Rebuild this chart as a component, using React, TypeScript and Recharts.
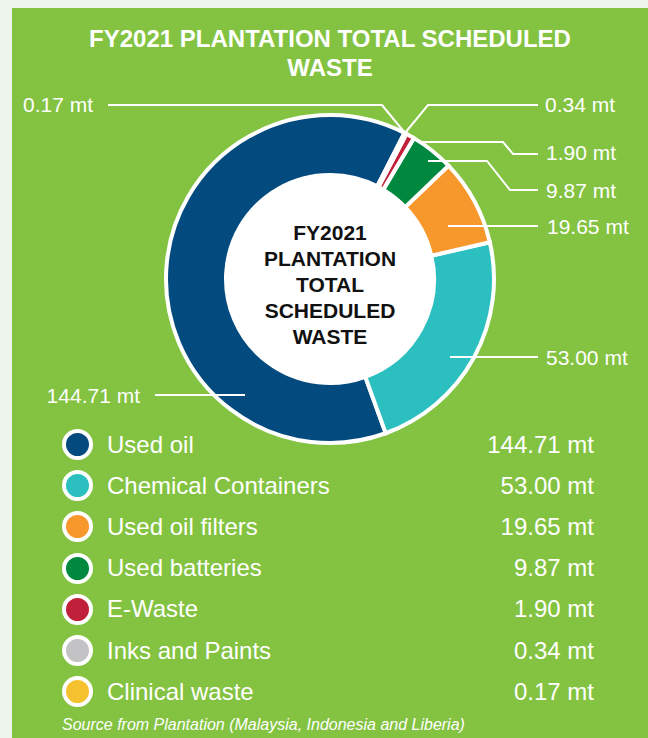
import React from 'react';
import { PieChart, Pie, Cell } from 'recharts';

// ─── Data ─────────────────────────────────────────────────────────────────────

const categories = [
  'Used oil',
  'Chemical Containers',
  'Used oil filters',
  'Used batteries',
  'E-Waste',
  'Inks and Paints',
  'Clinical waste',
];
const tonnes = [144.71, 53.0, 19.65, 9.87, 1.9, 0.34, 0.17];
const colors = ['#034a7e', '#2cbfc0', '#f7982c', '#00893e', '#c0203a', '#c3c3c5', '#f6c12e'];

const TITLE = 'FY2021 PLANTATION TOTAL SCHEDULED WASTE';
const CENTER_LINES = ['FY2021', 'PLANTATION', 'TOTAL', 'SCHEDULED', 'WASTE'];
const SOURCE = 'Source from Plantation (Malaysia, Indonesia and Liberia)';

const fmt = (v: number) => `${v.toFixed(2)} mt`;
const data = categories.map((name, i) => ({ name, value: tonnes[i] }));

// ─── Layout ───────────────────────────────────────────────────────────────────

const W = 648;
const H = 738;
const CX = 330;
const CY = 279;
const GREEN = '#83c341';
const FONT = '"Liberation Sans", Arial, Helvetica, sans-serif';

// leader line routes, relative to the pie centre (one per slice, same order)
const LEADERS: { pts: [number, number][]; tx: number; ty: number; anchor: 'start' | 'end' }[] = [
  { pts: [[-85, 116], [-175, 116]], tx: -190, ty: 116, anchor: 'end' },
  { pts: [[120, 78], [208, 78]], tx: 216, ty: 78, anchor: 'start' },
  { pts: [[118, -53], [208, -53]], tx: 217, ty: -53, anchor: 'start' },
  { pts: [[98, -118], [157, -118], [180, -89], [208, -89]], tx: 216, ty: -89, anchor: 'start' },
  { pts: [[88, -137], [173, -137], [183, -125], [208, -125]], tx: 216, ty: -127, anchor: 'start' },
  { pts: [[75, -146], [98, -174], [208, -174]], tx: 215, ty: -175, anchor: 'start' },
  { pts: [[75, -146], [52, -174], [-222, -174]], tx: -237, ty: -175, anchor: 'end' },
];

function renderLeader(props: any) {
  const { cx, cy, index } = props;
  const l = LEADERS[index];
  if (!l) return null;
  const points = l.pts.map(([dx, dy]) => `${cx + dx},${cy + dy}`).join(' ');
  return (
    <g key={`leader-${index}`}>
      <polyline points={points} fill="none" stroke="#fff" strokeWidth={2} />
      <text x={cx + l.tx} y={cy + l.ty} textAnchor={l.anchor} dominantBaseline="central"
            fill="#fff" fontSize={21} fontFamily={FONT}>
        {fmt(tonnes[index])}
      </text>
    </g>
  );
}

// ─── Chart ────────────────────────────────────────────────────────────────────

export default function App() {
  return (
    <div style={{ position: 'absolute', left: 0, top: 0, width: W, height: H, background: '#eef5ec',
                  overflow: 'hidden', fontFamily: FONT }}>
      <div style={{ position: 'absolute', left: 12, top: 8, width: W - 12, height: H - 8, background: GREEN }} />

      {/* title */}
      <div style={{ position: 'absolute', left: 12, width: W - 12, top: 24, textAlign: 'center',
                    color: '#fff', fontWeight: 700, fontSize: 24, lineHeight: '29px' }}>
        FY2021 PLANTATION TOTAL SCHEDULED<br />WASTE
      </div>

      <div style={{ position: 'absolute', left: 0, top: 0 }}>
        <PieChart width={W} height={H} margin={{ top: 0, right: 0, bottom: 0, left: 0 }}>
          <Pie data={[{ name: 'centre', value: 1 }]} dataKey="value" cx={CX} cy={CY}
               innerRadius={0} outerRadius={104} fill="#fff" stroke="none" isAnimationActive={false} />
          <Pie data={data} dataKey="value" nameKey="name" cx={CX} cy={CY}
               startAngle={63} endAngle={423} innerRadius={104} outerRadius={164}
               stroke="#fff" strokeWidth={4} label={renderLeader} labelLine={false}
               isAnimationActive={false}>
            {data.map((d, i) => <Cell key={d.name} fill={colors[i]} />)}
          </Pie>
        </PieChart>
      </div>

      {/* centre label */}
      <div aria-label={TITLE} style={{ position: 'absolute', left: CX - 90, width: 180, top: CY - 59,
                    textAlign: 'center', color: '#111', fontWeight: 700, fontSize: 21, lineHeight: '26px' }}>
        {CENTER_LINES.map((t) => <div key={t}>{t}</div>)}
      </div>

      {/* legend */}
      {categories.map((name, i) => (
        <div key={name} style={{ position: 'absolute', left: 0, width: W, top: 424 + i * 41.2, height: 41.2,
                                 display: 'flex', alignItems: 'center', color: '#fff', fontSize: 24 }}>
          <div style={{ position: 'absolute', left: 61.5, width: 23, height: 23, borderRadius: '50%',
                        background: colors[i], border: '4px solid #fff' }} />
          <div style={{ position: 'absolute', left: 107 }}>{name}</div>
          <div style={{ position: 'absolute', right: W - 594 }}>{fmt(tonnes[i])}</div>
        </div>
      ))}

      <div style={{ position: 'absolute', left: 62, top: 715, color: '#fff', fontStyle: 'italic',
                    fontSize: 16, lineHeight: '20px' }}>
        {SOURCE}
      </div>
    </div>
  );
}
